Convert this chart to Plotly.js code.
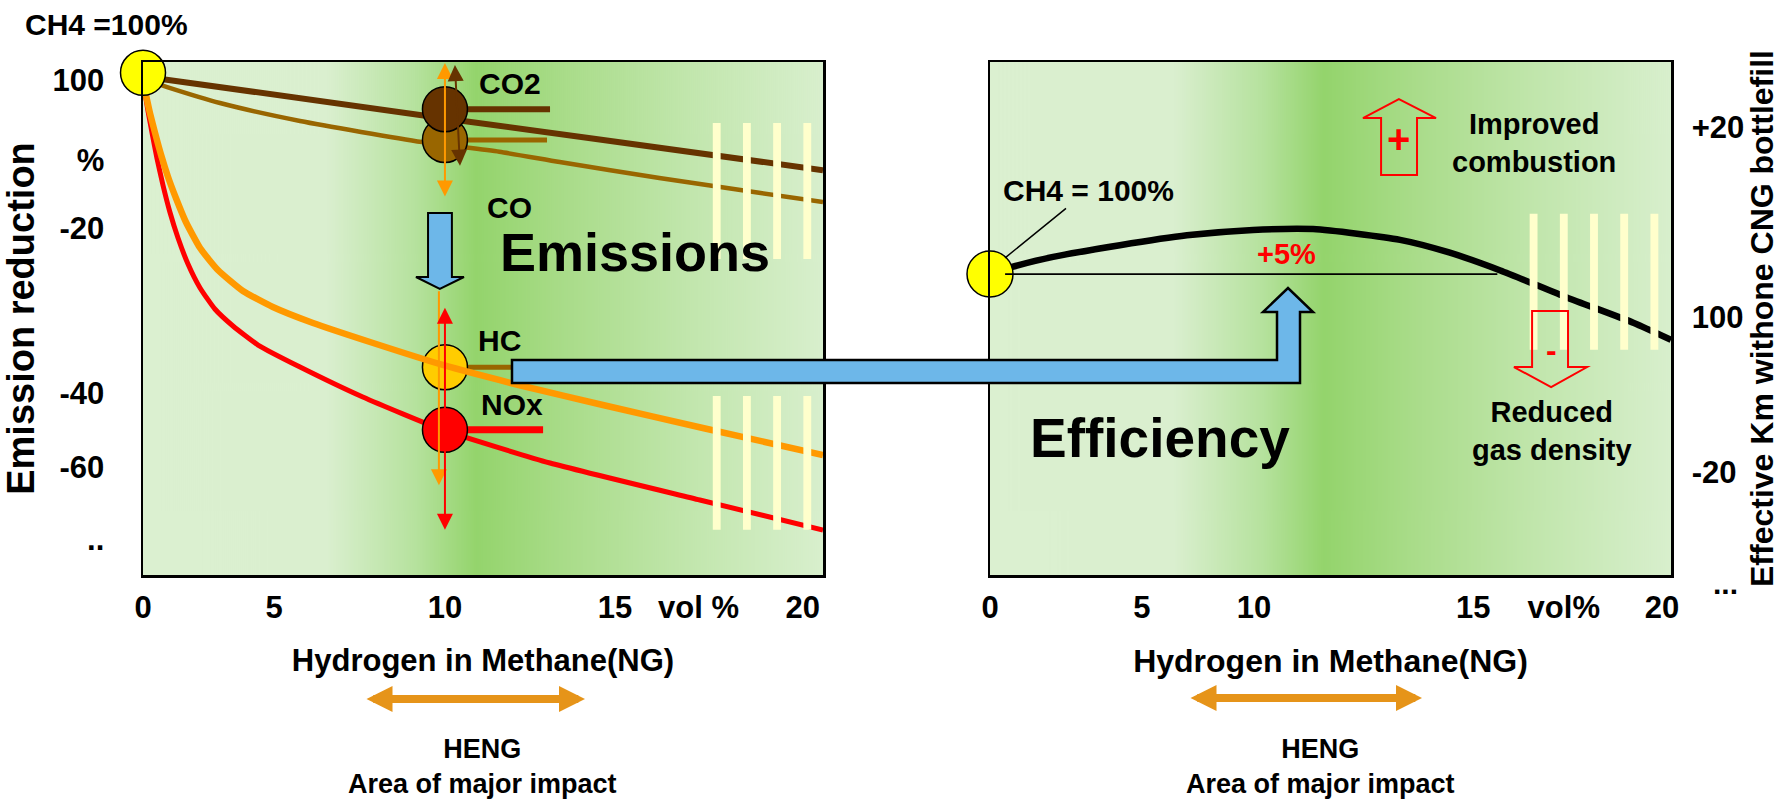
<!DOCTYPE html>
<html>
<head>
<meta charset="utf-8">
<script src="https://cdn.plot.ly/plotly-3.0.1.min.js"></script>
<style>html,body{margin:0;padding:0;background:#fff;}#chart{width:1787px;height:799px;}</style>
</head>
<body>
<div id="chart"></div>
<script>
// ---------------- DATA ----------------
// Left panel: emissions relative to pure methane (CH4 = 100)
const xCO2 = [0, 5, 10, 15, 20, 22.52];
const yCO2 = [99.3, 95.1, 91.1, 87.1, 83.1, 81.0];
const xCO = [0, 0.8, 2.55, 5.2, 9.24, 11.8, 13.8, 17.1, 20.4, 22.52];
const yCO = [98.8, 97.2, 94.1, 90.6, 86.5, 84.6, 82.6, 79.5, 76.6, 74.8];
const xHC = [0, 0.10, 0.23, 0.40, 0.60, 0.83, 1.09, 1.42, 1.89, 2.48, 3.31, 4.30, 5.63, 7.62, 9.93, 12.58, 15.23, 18.54, 22.52];
const yHC = [98.6, 95.67, 92.16, 88.26, 83.97, 79.68, 75.59, 70.91, 65.84, 61.55, 57.46, 54.34, 51.22, 47.32, 43.04, 38.94, 35.24, 30.75, 25.49];
const xNOx = [0, 0.066, 0.166, 0.30, 0.46, 0.66, 0.89, 1.16, 1.49, 1.89, 2.38, 2.98, 3.81, 5.20, 7.28, 9.93, 13.48, 18.44, 22.52];
const yNOx = [98.6, 96.06, 92.55, 88.26, 83.39, 78.12, 72.86, 67.79, 62.72, 58.05, 53.95, 50.64, 46.93, 42.65, 36.80, 30.37, 23.93, 16.72, 10.87];

// Markers at 10 vol% H2
const markerNames = ['CO', 'CO2', 'NOx', 'HC'];
const markerX = [10, 10, 10, 10];
const markerY = [86.9, 92.9, 30.4, 42.6];
const markerColors = ['#996600', '#663300', '#FF0000', '#FFCC00'];
const stubEndX = [13.38, 13.48, 13.25, 12.2];
const stubColors = ['#996600', '#663300', '#FF0000', '#996600'];

// Starting point CH4 = 100 %
const startX = [0];
const startY = [100];

// Right panel: effective km with one CNG bottle fill (CH4 = 100)
const xEff = [0, 0.73, 2.09, 4.30, 6.52, 8.71, 10.7, 13.58, 15.2, 16.9, 19.1, 21.3, 22.55];
const yEff = [100.1, 100.8, 101.9, 103.2, 104.3, 104.9, 105.0, 103.8, 102.4, 100.4, 97.4, 94.6, 92.7];
const baseLevel = 100;

// Tick labels
const leftXTickVals = [0, 4.34, 10, 15.63, 18.4, 21.85];
const leftXTickText = ['0', '5', '10', '15', 'vol %', '20'];
const leftYTickVals = [98.6, 83.0, 69.7, 37.6, 23.15, 9.0];
const leftYTickText = ['100', '%', '-20', '-40', '-60', '..'];
const rightXTickVals = [0, 5.03, 8.74, 16.0, 19.0, 22.25];
const rightXTickText = ['0', '5', '10', '15', 'vol%', '20'];
const rightYTickVals = [116.3, 95.2, 78.0];
const rightYTickText = ['+20', '100', '-20'];

// ---------------- STYLE / LAYOUT ----------------
const W = 1787, H = 799;
const FAM = 'Liberation Sans, Arial, Helvetica, sans-serif';
const F = (size, color) => ({family: FAM, size: size, color: color || '#000', weight: 'bold'});
const PX = x => x / W, PY = y => 1 - y / H;

function gradientURL() {
  const c = document.createElement('canvas');
  c.width = 680; c.height = 4;
  const g = c.getContext('2d');
  const gr = g.createLinearGradient(0, 0, 680, 0);
  [[0, '#DBF0D0'], [0.27, '#DAEFCF'], [0.40, '#B6E29E'], [0.49, '#94D46C'],
   [0.62, '#A9DC89'], [0.80, '#C1E6AC'], [1, '#D8EFCD']].forEach(s => gr.addColorStop(s[0], s[1]));
  g.fillStyle = gr; g.fillRect(0, 0, 680, 4);
  return c.toDataURL('image/png');
}
const grad = gradientURL();

const traces = [
  {x: xCO2, y: yCO2, mode: 'lines', line: {color: '#663300', width: 6}, xaxis: 'x', yaxis: 'y', name: 'CO2'},
  {x: xCO, y: yCO, mode: 'lines', line: {color: '#996600', width: 4.5, shape: 'spline', smoothing: 0.6}, xaxis: 'x', yaxis: 'y', name: 'CO'},
  {x: xNOx, y: yNOx, mode: 'lines', line: {color: '#FF0000', width: 5, shape: 'spline', smoothing: 0.5}, xaxis: 'x', yaxis: 'y', name: 'NOx'}
];
markerNames.forEach((n, i) => {
  traces.push({x: [markerX[i], stubEndX[i]], y: [markerY[i], markerY[i]], mode: 'lines',
    line: {color: stubColors[i], width: n === 'NOx' ? 7 : (n === 'CO2' ? 6 : 5)}, xaxis: 'x', yaxis: 'y', name: n + ' stub'});
});
traces.push({x: markerX, y: markerY, mode: 'markers', text: markerNames, cliponaxis: false,
  marker: {size: 45, color: markerColors, line: {color: '#000', width: 1.5}}, xaxis: 'x', yaxis: 'y', name: 'markers'});
traces.push({x: xHC, y: yHC, mode: 'lines', line: {color: '#FF9900', width: 6.5, shape: 'spline', smoothing: 0.5}, xaxis: 'x', yaxis: 'y', name: 'HC'});
traces.push({x: startX, y: startY, mode: 'markers', cliponaxis: false, marker: {size: 45, color: '#FFFF00', line: {color: '#000', width: 1.5}}, xaxis: 'x', yaxis: 'y', name: 'CH4'});
traces.push({x: xEff, y: yEff, mode: 'lines', line: {color: '#000', width: 6.5, shape: 'spline', smoothing: 0.6}, xaxis: 'x2', yaxis: 'y2', name: 'Efficiency'});
traces.push({x: startX, y: startY, mode: 'markers', cliponaxis: false, marker: {size: 46, color: '#FFFF00', line: {color: '#000', width: 1.5}}, xaxis: 'x2', yaxis: 'y2', name: 'CH4 right'});

// shapes
const shapes = [];
const stripe = (xr, yr, c, y0, y1) => ({type: 'rect', xref: xr, yref: yr, x0: c - 0.13, x1: c + 0.13, y0: y0, y1: y1,
  fillcolor: '#FFFFCC', line: {width: 0}, layer: 'above'});
[19, 20, 21, 22].forEach(c => { shapes.push(stripe('x', 'y', c, 63.7, 90.2)); shapes.push(stripe('x', 'y', c, 10.9, 37.0)); });
[18, 19, 20, 21, 22].forEach(c => shapes.push(stripe('x2', 'y2', c, 91.6, 106.7)));
// baseline CH4 = 100 % (right panel)
shapes.push({type: 'line', xref: 'x2', yref: 'y2', x0: 0.5, x1: 16.8, y0: baseLevel, y1: baseLevel, line: {color: '#000', width: 1.8}, layer: 'above'});
// blue down arrow (left panel)
shapes.push({type: 'path', xref: 'x', yref: 'y', layer: 'above',
  path: 'M9.44,72.67 L10.23,72.67 L10.23,60.19 L10.63,60.19 L9.83,57.85 L9.04,60.19 L9.44,60.19 Z',
  fillcolor: '#6DB7E9', line: {color: '#000', width: 2}});
// red outline arrows (right panel)
shapes.push({type: 'path', xref: 'x2', yref: 'y2', layer: 'above',
  path: 'M12.95,111.0 L12.95,117.33 L12.35,117.33 L13.54,119.44 L14.77,117.33 L14.14,117.33 L14.14,111.0 Z',
  fillcolor: 'rgba(0,0,0,0)', line: {color: '#FF0000', width: 2}});
shapes.push({type: 'path', xref: 'x2', yref: 'y2', layer: 'above',
  path: 'M17.95,95.89 L19.14,95.89 L19.14,89.67 L19.77,89.67 L18.58,87.44 L17.35,89.67 L17.95,89.67 Z',
  fillcolor: 'rgba(0,0,0,0)', line: {color: '#FF0000', width: 2}});
// blue L-shaped arrow linking the two panels
const Lpts = [[512, 360], [1277, 360], [1277, 312], [1263, 312], [1288, 288], [1313, 312], [1300, 312], [1300, 383], [512, 383]];
shapes.push({type: 'path', xref: 'paper', yref: 'paper', layer: 'above',
  path: 'M' + Lpts.map(p => PX(p[0]).toFixed(5) + ',' + PY(p[1]).toFixed(5)).join(' L') + ' Z',
  fillcolor: '#6DB7E9', line: {color: '#000', width: 2.5}});

const ann = [];
const txt = (text, xr, yr, x, y, font, extra) => Object.assign({text: text, xref: xr, yref: yr, x: x, y: y,
  showarrow: false, font: font, xanchor: 'center', yanchor: 'middle'}, extra || {});
ann.push(txt('CH4 =100%', 'paper', 'paper', PX(106), PY(25), F(30)));
ann.push(txt('CO2', 'x', 'y', 11.06, 98.0, F(30), {xanchor: 'left'}));
ann.push(txt('CO', 'x', 'y', 11.32, 73.8, F(30), {xanchor: 'left'}));
ann.push(txt('HC', 'x', 'y', 11.03, 47.9, F(30), {xanchor: 'left'}));
ann.push(txt('NOx', 'x', 'y', 11.13, 35.4, F(30), {xanchor: 'left'}));
ann.push(txt('Emissions', 'x', 'y', 16.3, 65.1, F(54)));
ann.push(txt('Efficiency', 'x2', 'y2', 5.63, 81.8, F(55)));
ann.push(txt('Improved<br>combustion', 'x2', 'y2', 18.0, 114.6, F(29)));
ann.push(txt('Reduced<br>gas density', 'x2', 'y2', 18.6, 82.6, F(29)));
ann.push(txt('+5%', 'x2', 'y2', 9.83, 102.2, F(29, '#FF0000')));
ann.push(txt('+', 'x2', 'y2', 13.54, 115.0, F(40, '#FF0000')));
ann.push(txt('-', 'x2', 'y2', 18.58, 91.6, F(32, '#FF0000')));
ann.push({text: 'CH4 = 100%', xref: 'x2', yref: 'y2', x: 0.5, y: 101.8, axref: 'x2', ayref: 'y2', ax: 3.25, ay: 109.3,
  showarrow: true, arrowhead: 0, arrowwidth: 1.5, arrowcolor: '#000', font: F(30)});
ann.push(txt('HENG<br>Area of major impact', 'paper', 'paper', PX(482), PY(766), F(27)));
ann.push(txt('HENG<br>Area of major impact', 'paper', 'paper', PX(1320), PY(766), F(27)));
ann.push(txt('...', 'paper', 'paper', PX(1725), PY(583), F(30)));
// vertical double arrows at 10 vol%
const varrow = (x, y, ax, ay, color, side) => ({text: '', xref: 'x', yref: 'y', axref: 'x', ayref: 'y', x: x, y: y, ax: ax, ay: ay,
  showarrow: true, arrowside: side, arrowhead: 2, arrowsize: 1.6, arrowwidth: 2, arrowcolor: color});
ann.push(varrow(10.0, 101.9, 10.0, 75.6, '#FF9900', 'end+start'));
ann.push(varrow(10.33, 101.5, 10.5, 81.6, '#663300', 'end+start'));
ann.push(varrow(9.8, 19.6, 9.8, 57.7, '#FF9900', 'end'));
ann.push(varrow(10.0, 10.9, 10.0, 54.5, '#FF0000', 'end+start'));
// HENG orange double arrows
ann.push({text: '', xref: 'paper', yref: 'paper', x: PX(585), y: PY(699), ax: -220, ay: 0, showarrow: true,
  arrowside: 'end+start', arrowhead: 2, arrowsize: 0.65, arrowwidth: 8, arrowcolor: '#E69419'});
ann.push({text: '', xref: 'paper', yref: 'paper', x: PX(1422), y: PY(698), ax: -233, ay: 0, showarrow: true,
  arrowside: 'end+start', arrowhead: 2, arrowsize: 0.65, arrowwidth: 8, arrowcolor: '#E69419'});

const NB = '\u00A0';
const yDom = [1 - 575 / H, 1 - 62 / H];
const frame = {showline: true, mirror: true, linecolor: '#000', linewidth: 2.5, showgrid: false, zeroline: false, ticks: '', fixedrange: true};
const layout = {
  width: W, height: H, margin: {l: 0, r: 0, t: 0, b: 0, pad: 0},
  paper_bgcolor: '#fff', plot_bgcolor: 'rgba(0,0,0,0)', showlegend: false, hovermode: false,
  xaxis: Object.assign({}, frame, {domain: [PX(143), PX(823)], range: [0, 22.52], anchor: 'y',
    tickmode: 'array', tickvals: leftXTickVals, ticktext: leftXTickText, tickfont: F(31), ticklabelstandoff: 3,
    title: {text: 'Hydrogen in Methane(NG)', font: F(31), standoff: 26}}),
  yaxis: Object.assign({}, frame, {domain: yDom, range: [2.1, 102.1], anchor: 'x',
    tickmode: 'array', tickvals: leftYTickVals, ticktext: leftYTickText, tickfont: F(31), ticklabelstandoff: 30,
    title: {text: 'Emission reduction' + NB.repeat(6), font: F(38), standoff: 14}}),
  xaxis2: Object.assign({}, frame, {domain: [PX(990), PX(1671)], range: [0, 22.55], anchor: 'y2',
    tickmode: 'array', tickvals: rightXTickVals, ticktext: rightXTickText, tickfont: F(31), ticklabelstandoff: 3,
    title: {text: 'Hydrogen in Methane(NG)', font: F(32), standoff: 26}}),
  yaxis2: Object.assign({}, frame, {domain: yDom, range: [66.56, 123.56], anchor: 'x2', side: 'right',
    tickmode: 'array', tickvals: rightYTickVals, ticktext: rightYTickText, tickfont: F(31), ticklabelstandoff: 12,
    title: {text: 'Effective Km withone CNG bottlefill', font: F(32), standoff: 8}}),
  images: [
    {source: grad, xref: 'paper', yref: 'paper', x: PX(143), y: PY(62), sizex: 680 / W, sizey: 513 / H, sizing: 'stretch', xanchor: 'left', yanchor: 'top', layer: 'below'},
    {source: grad, xref: 'paper', yref: 'paper', x: PX(990), y: PY(62), sizex: 681 / W, sizey: 513 / H, sizing: 'stretch', xanchor: 'left', yanchor: 'top', layer: 'below'}
  ],
  shapes: shapes,
  annotations: ann
};
Plotly.newPlot('chart', traces, layout, {staticPlot: true, displayModeBar: false});
</script>
</body>
</html>
